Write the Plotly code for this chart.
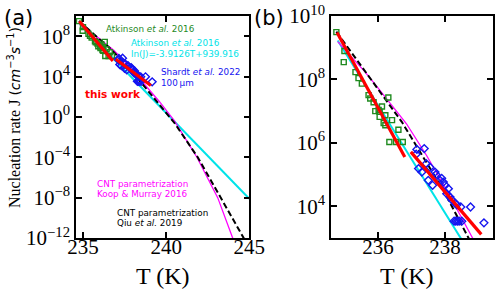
import plotly.graph_objects as go

# ---------------- data ----------------
# Atkinson et al. 2016 measurements (green squares)
atk_T = [234.76, 235.00, 234.98, 235.33, 235.42, 235.52, 235.72, 235.77, 235.87,
         235.92, 236.02, 236.05, 236.12, 236.31, 236.22, 236.05, 236.42, 236.17,
         236.22, 236.61, 236.34, 236.54, 236.74]
atk_J = [3.1e9, 7.9e8, 3.5e8, 1.7e8, 1.1e8, 7.4e7, 3.2e7, 2.5e7, 1.9e7,
         1.0e7, 1.1e7, 9.5e6, 1.4e7, 2.7e7, 7.4e6, 6.6e6, 5.2e6, 4.2e6,
         3.6e6, 2.6e6, 1.07e6, 1.07e6, 1.07e6]

# Shardt et al. 2022, 100 um (blue diamonds)
shardt_T = [237.16, 237.14, 237.38, 237.21, 237.31, 237.44, 237.55, 237.70, 237.73,
            237.50, 237.63, 237.85, 237.90, 237.95, 238.00, 238.10, 238.05, 238.15,
            238.20, 238.30, 238.35, 238.47, 238.76, 238.27, 238.32, 238.37, 238.42,
            238.50, 239.16]
shardt_J = [6.2e5, 4.4e5, 6.6e5, 1.55e5, 1.2e5, 2.2e5, 1.7e5, 1.2e5, 1.0e5,
            6.6e4, 4.6e4, 6.6e4, 7.6e4, 5.8e4, 4.6e4, 3.6e4, 2.5e4, 1.95e4,
            1.6e4, 1.26e4, 1.1e4, 9.5e3, 9.5e3, 3.4e3, 3.4e3, 3.4e3, 3.4e3,
            3.4e3, 3.0e3]

# this work (two red fitted segments)
this_T = [234.78, 236.80, None, 236.98, 239.08]
this_J = [3.0e9, 3.6e5, None, 5.2e5, 1.3e3]

# Atkinson et al. 2016 fit line (cyan)
cyan_T = [234.8, 245.0]
cyan_J = [1.7e9, 7.8e-9]

# CNT parametrization, Koop & Murray 2016 (magenta)
koop_T = [234.8, 235.2, 235.6, 236.0, 236.4, 236.85, 237.45, 238.05, 238.8,
          239.6, 240.5, 241.85, 243.1, 244.0, 244.1]
koop_J = [1.55e9, 5.2e8, 1.8e8, 5.4e7, 1.6e7, 4.0e6, 4.0e5, 3.2e4, 1.1e3,
          32, 0.4, 1e-4, 1e-8, 1e-12, 3e-13]

# CNT parametrization, Qiu et al. 2019 (black dashed)
qiu_T = [234.76, 235.77, 236.71, 237.95, 238.69, 239.5, 240.5, 241.9, 243.3, 244.66, 244.75]
qiu_J = [3.2e9, 1.1e8, 4.6e6, 3.2e4, 1.07e3, 25, 0.25, 1e-4, 1e-8, 1e-12, 4e-13]

left_xticks = [235, 240, 245]
right_xticks = [236, 238]
left_yexp = [-12, -8, -4, 0, 4, 8]
right_yexp = [4, 6, 8, 10]

# ---------------- figure ----------------
W, H = 500, 291
def px(x):
    return x / W
def py(y):
    return 1 - y / H

GREEN = "#1f8a1f"
BLUE = "#1515f0"
RED = "#ff0000"
CYAN = "#00e3e8"
MAGENTA = "#ff00ff"

fig = go.Figure()
for xa, ya in [("x", "y"), ("x2", "y2")]:
    fig.add_trace(go.Scatter(x=cyan_T, y=cyan_J, mode="lines",
                             line=dict(color=CYAN, width=2), xaxis=xa, yaxis=ya))
    fig.add_trace(go.Scatter(x=koop_T, y=koop_J, mode="lines",
                             line=dict(color=MAGENTA, width=1.3), xaxis=xa, yaxis=ya))
    fig.add_trace(go.Scatter(x=qiu_T, y=qiu_J, mode="lines",
                             line=dict(color="black", width=2, dash="6px,3px"),
                             xaxis=xa, yaxis=ya))
    fig.add_trace(go.Scatter(x=atk_T, y=atk_J, mode="markers",
                             marker=dict(symbol="square-open", size=5, color=GREEN,
                                         line=dict(width=1.4, color=GREEN)),
                             xaxis=xa, yaxis=ya))
    fig.add_trace(go.Scatter(x=shardt_T, y=shardt_J, mode="markers",
                             marker=dict(symbol="diamond-open", size=6, color=BLUE,
                                         line=dict(width=1.4, color=BLUE)),
                             xaxis=xa, yaxis=ya))
    fig.add_trace(go.Scatter(x=this_T, y=this_J, mode="lines",
                             line=dict(color=RED, width=3.2), connectgaps=False,
                             xaxis=xa, yaxis=ya))

def sup_label(e):
    s = str(abs(e))
    if e < 0:
        s = "\u2212" + s
    return "10<sup>" + s + "</sup>"

tickfont = dict(family="Liberation Serif", size=21, color="black")
common = dict(showline=True, linecolor="black", linewidth=1.5, mirror="allticks",
              ticks="inside", ticklen=6, tickwidth=1.5, tickcolor="black",
              showgrid=False, zeroline=False, tickfont=tickfont, automargin=False)
xcommon = dict(common, ticklabelstandoff=-11)

ydom = [py(238), py(16)]
fig.update_layout(
    template="none",
    width=W, height=H,
    margin=dict(l=0, r=0, t=0, b=0, pad=0, autoexpand=False),
    paper_bgcolor="white", plot_bgcolor="white",
    showlegend=False,
    xaxis=dict(domain=[px(76), px(249.3)], range=[234.58, 245], anchor="y",
               tickmode="array", tickvals=left_xticks,
               ticktext=[str(v) for v in left_xticks], **xcommon),
    yaxis=dict(domain=ydom, type="log", range=[-12, 10], anchor="x",
               tickmode="array", tickvals=[10.0 ** e for e in left_yexp],
               ticktext=[sup_label(e) for e in left_yexp], **common),
    xaxis2=dict(domain=[px(331), px(493)], range=[234.6, 239.43], anchor="y2",
                tickmode="array", tickvals=right_xticks,
                ticktext=[str(v) for v in right_xticks], **xcommon),
    yaxis2=dict(domain=ydom, type="log", range=[3, 10], anchor="x2",
                tickmode="array", tickvals=[10.0 ** e for e in right_yexp],
                ticktext=[sup_label(e) for e in right_yexp], **common),
)

SANS = "DejaVu Sans"
SERIF = "Liberation Serif"
ann = []
def add_text(text, x, y, color="black", size=8.8, family=SANS, xanchor="left", **kw):
    ann.append(dict(text=text, x=px(x), y=py(y), xref="paper", yref="paper",
                    xanchor=xanchor, yanchor="middle", showarrow=False,
                    font=dict(family=family, size=size, color=color), **kw))

add_text("(a)", 18, 18, size=21, xanchor="center")
add_text("(b)", 269, 18, size=21, xanchor="center")
add_text("Atkinson <i>et al.</i> 2016", 104, 29, color=GREEN)
add_text("Atkinson <i>et al.</i> 2016", 129, 43, color=CYAN)
add_text("ln(J)=-3.9126T+939.916", 129, 54, color=CYAN)
add_text("Shardt <i>et al.</i> 2022", 159, 72, color=BLUE)
add_text("100\u2009\u03bcm", 159, 83, color=BLUE)
add_text("<b>this work</b>", 83, 94, color=RED, size=10.5)
add_text("CNT parametrization", 95, 184, color=MAGENTA)
add_text("Koop &amp; Murray 2016", 95, 194, color=MAGENTA)
add_text("CNT parametrization", 115, 213, color="black")
add_text("Qiu <i>et al.</i> 2019", 115, 223, color="black")
add_text("T (K)", 162.5, 276, size=24, family=SERIF, xanchor="center")
add_text("T (K)", 407, 276, size=24, family=SERIF, xanchor="center")
add_text('Nucleation rate J <span style="font-family:DejaVu Sans;font-size:14px">'
         '(<i>cm</i><sup>\u22123</sup><i>s</i><sup>\u22121</sup>)</span>',
         14, 118, size=16, family=SERIF, xanchor="center", textangle=-90)

fig.update_layout(annotations=ann)
fig.write_html(
    "out.html",
    config={"displayModeBar": False},
    post_script="document.body.style.margin='0';document.body.style.padding='0';"
                "document.documentElement.style.overflow='hidden';",
)
